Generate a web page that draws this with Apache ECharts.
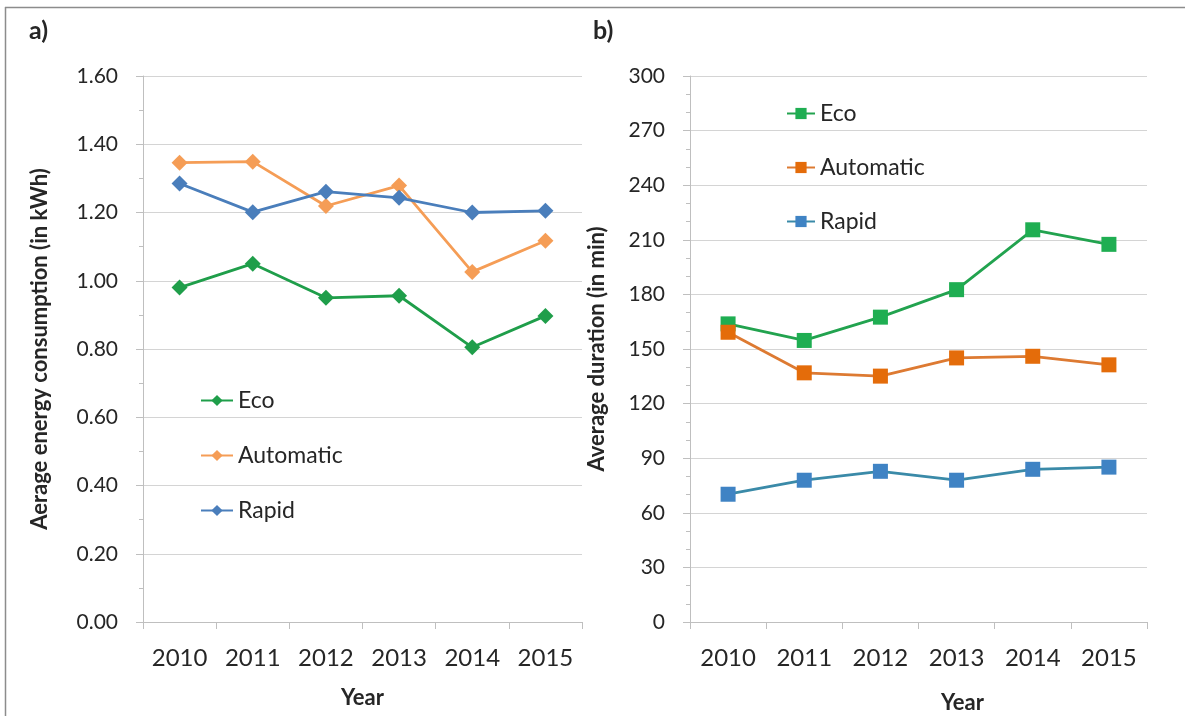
<!DOCTYPE html>
<html>
<head>
<meta charset="utf-8">
<script src="https://cdn.jsdelivr.net/npm/echarts@6/dist/echarts.min.js"></script>
<style>
  html, body { margin: 0; padding: 0; background: #ffffff; }
  #chart { width: 1185px; height: 716px; }
</style>
</head>
<body>
<div id="chart"></div>
<script>
// Dishwasher programme statistics per year
const years = ['2010', '2011', '2012', '2013', '2014', '2015'];

// a) average energy consumption (kWh)
const energyEco       = [0.98, 1.05, 0.95, 0.956, 0.805, 0.897];
const energyAutomatic = [1.346, 1.349, 1.219, 1.279, 1.026, 1.117];
const energyRapid     = [1.285, 1.201, 1.261, 1.243, 1.200, 1.205];

// b) average duration (min)
const durationEco       = [163.8, 154.7, 167.5, 182.6, 215.5, 207.5];
const durationAutomatic = [159.2, 136.9, 135.1, 145.1, 146.0, 141.3];
const durationRapid     = [70.2, 77.9, 82.8, 77.9, 83.9, 85.1];

const energyTicks = { min: 0, max: 1.6, interval: 0.2 };
const durationTicks = { min: 0, max: 300, interval: 30 };

const programmes = ['Eco', 'Automatic', 'Rapid'];
const DUR = ' (duration)';

const FONT = 'Lato, "Open Sans", sans-serif';
const TEXT = '#262626';
const GRID_LINE = '#d4d4d4';
const AXIS_LINE = '#bfbfbf';

const colorsA = { Eco: '#1f9e4a', Automatic: '#f59d56', Rapid: '#4a7ebb' };
const colorsB = {
  Eco: { line: '#22a34f', mark: '#1fae52' },
  Automatic: { line: '#dd7a32', mark: '#e46c0a' },
  Rapid: { line: '#3a8aa8', mark: '#3f83c4' }
};

function yAxis(gridIndex, ticks, name, gap, minorSplit, fmt) {
  return {
    type: 'value', gridIndex: gridIndex,
    min: ticks.min, max: ticks.max, interval: ticks.interval,
    name: name, nameLocation: 'middle', nameGap: gap,
    nameTextStyle: { fontFamily: FONT, fontWeight: 'bold', fontSize: 22, color: TEXT },
    axisLine: { show: true, lineStyle: { color: AXIS_LINE, width: 1 } },
    axisTick: { show: true, length: 7, lineStyle: { color: AXIS_LINE } },
    minorTick: { show: true, splitNumber: minorSplit, length: 4, lineStyle: { color: AXIS_LINE } },
    axisLabel: { fontFamily: FONT, fontSize: 21, color: TEXT, margin: 25, formatter: fmt },
    splitLine: { show: true, lineStyle: { color: GRID_LINE, width: 1.2 } }
  };
}

function xAxis(gridIndex, namePad, nameGap) {
  return {
    type: 'category', gridIndex: gridIndex, data: years, boundaryGap: true,
    name: 'Year', nameLocation: 'middle', nameGap: nameGap,
    nameTextStyle: { fontFamily: FONT, fontWeight: 'bold', fontSize: 22, color: TEXT, padding: [0, 0, 0, namePad] },
    axisLine: { show: true, lineStyle: { color: AXIS_LINE, width: 1.2 } },
    axisTick: { show: true, alignWithLabel: false, length: 7, lineStyle: { color: AXIS_LINE } },
    axisLabel: { fontFamily: FONT, fontSize: 24, color: TEXT, margin: 24 },
    splitLine: { show: false }
  };
}

const energyData = { Eco: energyEco, Automatic: energyAutomatic, Rapid: energyRapid };
const durationData = { Eco: durationEco, Automatic: durationAutomatic, Rapid: durationRapid };

const series = [];
programmes.forEach(p => {
  series.push({
    name: p, type: 'line', xAxisIndex: 0, yAxisIndex: 0,
    data: energyData[p], symbol: 'diamond', symbolSize: 16,
    lineStyle: { color: colorsA[p], width: 2.8 },
    itemStyle: { color: colorsA[p] },
    emphasis: { disabled: true }, animation: false, z: 3
  });
});
programmes.forEach(p => {
  series.push({
    name: p + DUR, type: 'line', xAxisIndex: 1, yAxisIndex: 1,
    data: durationData[p], symbol: 'rect', symbolSize: 15,
    lineStyle: { color: colorsB[p].line, width: 2.8 },
    itemStyle: { color: colorsB[p].mark },
    emphasis: { disabled: true }, animation: false, z: 3
  });
});

const legendText = { fontFamily: FONT, fontSize: 23, color: TEXT, lineHeight: 23 };

const option = {
  backgroundColor: '#ffffff',
  animation: false,
  grid: [
    { left: 143, right: 603, top: 76, bottom: 94, outerBoundsMode: 'none' },
    { left: 690, right: 38, top: 76, bottom: 94, outerBoundsMode: 'none' }
  ],
  xAxis: [xAxis(0, 0, 65), xAxis(1, 88, 70)],
  yAxis: [
    yAxis(0, energyTicks, 'Aerage energy consumption (in kWh)', 92, 2, v => v.toFixed(2)),
    yAxis(1, durationTicks, 'Average duration (in min)', 82, 3, v => String(v))
  ],
  legend: [
    {
      orient: 'vertical', left: 195, top: 384,
      itemWidth: 32, itemHeight: 14, itemGap: 32,
      data: programmes, textStyle: legendText, selectedMode: false
    },
    {
      orient: 'vertical', left: 781, top: 97,
      itemWidth: 28, itemHeight: 14, itemGap: 31,
      data: programmes.map(p => p + DUR),
      formatter: n => n.replace(DUR, ''),
      textStyle: legendText, selectedMode: false
    }
  ],
  graphic: [
    // frame: top and left edges
    { type: 'line', shape: { x1: 5, y1: 7.5, x2: 1185, y2: 7.5 }, style: { stroke: '#8c8c8c', lineWidth: 1.5 }, silent: true },
    { type: 'line', shape: { x1: 5.5, y1: 7, x2: 5.5, y2: 716 }, style: { stroke: '#8c8c8c', lineWidth: 1.5 }, silent: true },
    { type: 'text', left: 29, top: 18, style: { text: 'a)', fontFamily: FONT, fontWeight: 'bold', fontSize: 25, fill: TEXT }, silent: true },
    { type: 'text', left: 593, top: 18, style: { text: 'b)', fontFamily: FONT, fontWeight: 'bold', fontSize: 25, fill: TEXT }, silent: true }
  ],
  series: series
};

const chart = echarts.init(document.getElementById('chart'), null, { renderer: 'canvas' });
chart.setOption(option);
</script>
</body>
</html>
